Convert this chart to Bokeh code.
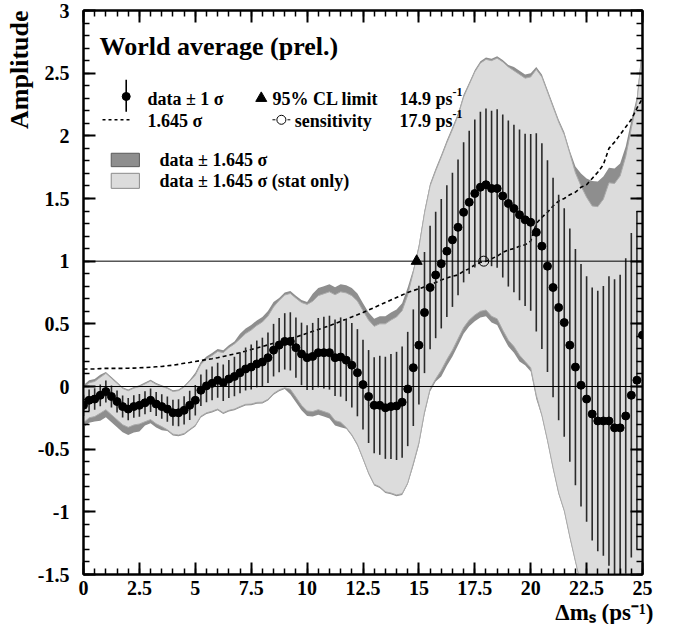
import math
import numpy as np
from bokeh.plotting import figure
from bokeh.models import (Range1d, LinearAxis, SingleIntervalTicker, Title,
                          CustomJSTickFormatter, Label, Span, ColumnDataSource)
from bokeh.embed import file_html
from bokeh.resources import INLINE

# ---------------- data ----------------
ms = [0.0, 0.25, 0.5, 0.75, 1.0, 1.25, 1.5, 1.75, 2.0, 2.25,
      2.5, 2.75, 3.0, 3.25, 3.5, 3.75, 4.0, 4.25, 4.5, 4.75,
      5.0, 5.25, 5.5, 5.75, 6.0, 6.25, 6.5, 6.75, 7.0, 7.25,
      7.5, 7.75, 8.0, 8.25, 8.5, 8.75, 9.0, 9.25, 9.5, 9.75,
      10.0, 10.25, 10.5, 10.75, 11.0, 11.25, 11.5, 11.75, 12.0, 12.25,
      12.5, 12.75, 13.0, 13.25, 13.5, 13.75, 14.0, 14.25, 14.5, 14.75,
      15.0, 15.25, 15.5, 15.75, 16.0, 16.25, 16.5, 16.75, 17.0, 17.25,
      17.5, 17.75, 18.0, 18.25, 18.5, 18.75, 19.0, 19.25, 19.5, 19.75,
      20.0, 20.25, 20.5, 20.75, 21.0, 21.25, 21.5, 21.75, 22.0, 22.25,
      22.5, 22.75, 23.0, 23.25, 23.5, 23.75, 24.0, 24.25, 24.5, 24.75,
      25.0]

amplitude = [-0.15, -0.11, -0.10, -0.07, -0.04, -0.08, -0.12, -0.16, -0.18, -0.16,
             -0.15, -0.13, -0.11, -0.14, -0.16, -0.18, -0.21, -0.21, -0.19, -0.15,
             -0.11, -0.03, 0.005, 0.025, 0.05, 0.03, 0.06, 0.08, 0.11, 0.14,
             0.155, 0.18, 0.195, 0.23, 0.29, 0.33, 0.36, 0.36, 0.31, 0.26,
             0.23, 0.24, 0.27, 0.27, 0.27, 0.23, 0.235, 0.21, 0.17, 0.11,
             0.015, -0.08, -0.15, -0.15, -0.17, -0.16, -0.155, -0.125, -0.02, 0.15,
             0.33, 0.59, 0.79, 0.89, 0.98, 1.08, 1.17, 1.27, 1.39, 1.47,
             1.54, 1.59, 1.61, 1.58, 1.58, 1.52, 1.46, 1.42, 1.37, 1.33,
             1.31, 1.23, 1.12, 0.96, 0.79, 0.63, 0.51, 0.33, 0.155, 0.01,
             -0.10, -0.22, -0.275, -0.275, -0.275, -0.33, -0.33, -0.235, -0.07, 0.05,
             0.41]

# 1.645 sigma (dashed curve)
sens_1645 = [0.140, 0.140, 0.140, 0.143, 0.145, 0.145, 0.145, 0.145, 0.146, 0.147,
             0.149, 0.151, 0.154, 0.157, 0.160, 0.165, 0.170, 0.177, 0.185, 0.192,
             0.200, 0.207, 0.215, 0.222, 0.230, 0.240, 0.250, 0.260, 0.270, 0.282,
             0.295, 0.307, 0.320, 0.332, 0.345, 0.357, 0.370, 0.382, 0.395, 0.410,
             0.425, 0.440, 0.455, 0.470, 0.485, 0.502, 0.520, 0.537, 0.555, 0.572,
             0.590, 0.610, 0.630, 0.650, 0.670, 0.690, 0.710, 0.730, 0.750, 0.765,
             0.780, 0.795, 0.810, 0.830, 0.850, 0.865, 0.880, 0.890, 0.920, 0.940,
             0.970, 0.990, 1.000, 1.020, 1.040, 1.070, 1.090, 1.100, 1.120, 1.130,
             1.160, 1.300, 1.350, 1.390, 1.440, 1.480, 1.500, 1.530, 1.550, 1.590,
             1.610, 1.660, 1.710, 1.770, 1.900, 1.950, 2.010, 2.070, 2.130, 2.220,
             2.300]

# extra width of the full (stat+syst) band beyond the stat-only band
syst_hi = [0.02, 0.02, 0.02, 0.02, 0.01, 0.01, 0.01, 0.01, 0.01, 0.01,
           0.01, 0.01, 0.01, 0.01, 0.01, 0.01, 0.01, 0.01, 0.01, 0.01,
           0.02, 0.02, 0.02, 0.02, 0.02, 0.02, 0.02, 0.02, 0.04, 0.04,
           0.04, 0.04, 0.04, 0.04, 0.04, 0.02, 0.02, 0.02, 0.02, 0.02,
           0.02, 0.06, 0.06, 0.06, 0.06, 0.06, 0.06, 0.06, 0.06, 0.06,
           0.06, 0.06, 0.06, 0.06, 0.06, 0.06, 0.06, 0.06, 0.06, 0.02,
           0.02, 0.02, 0.02, 0.02, 0.02, 0.02, 0.02, 0.02, 0.02, 0.015,
           0.015, 0.015, 0.015, 0.015, 0.015, 0.015, 0.015, 0.03, 0.03, 0.03,
           0.03, 0.02, 0.02, 0.02, 0.02, 0.02, 0.02, 0.02, 0.05, 0.10,
           0.15, 0.20, 0.20, 0.18, 0.12, 0.12, 0.10, 0.08, 0.06, 0.04,
           0.02]
syst_lo = [0.04, 0.04, 0.04, 0.06, 0.06, 0.06, 0.06, 0.06, 0.06, 0.06,
           0.06, 0.03, 0.03, 0.03, 0.03, 0.01, 0.01, 0.01, 0.01, 0.01,
           0.01, 0.01, 0.01, 0.01, 0.01, 0.01, 0.01, 0.01, 0.01, 0.01,
           0.01, 0.01, 0.01, 0.01, 0.01, 0.01, 0.01, 0.04, 0.04, 0.04,
           0.04, 0.04, 0.04, 0.04, 0.04, 0.04, 0.04, 0.01, 0.01, 0.01,
           0.01, 0.01, 0.01, 0.01, 0.01, 0.01, 0.01, 0.01, 0.01, 0.02,
           0.02, 0.02, 0.02, 0.02, 0.05, 0.05, 0.05, 0.05, 0.05, 0.05,
           0.05, 0.05, 0.05, 0.05, 0.05, 0.05, 0.05, 0.05, 0.05, 0.03,
           0.03, 0.03, 0.01, 0.01, 0.01, 0.01, 0.01, 0.01, 0.01, 0.01,
           0.01, 0.01, 0.01, 0.01, 0.01, 0.01, 0.01, 0.01, 0.01, 0.01,
           0.01]

limit_95 = 14.9
sensitivity = 17.9

# ---------------- styles ----------------
FONT = "Liberation Serif"
DARK = "#8e8e8e"
LIGHT = "#dcdcdc"
LIGHT_EDGE = "#ababab"

x = np.array(ms)
a = np.array(amplitude)
s = np.array(sens_1645)
sig = s / 1.645
src = ColumnDataSource(dict(
    x=x, a=a, sens=s,
    bar_lo=a - sig, bar_hi=a + sig,
    lt_lo=a - s, lt_hi=a + s,
    dk_lo=a - s - np.array(syst_lo), dk_hi=a + s + np.array(syst_hi)))

p = figure(width=667, height=624, x_range=Range1d(0, 25), y_range=Range1d(-1.5, 3),
           output_backend="svg", toolbar_location=None,
           min_border_left=83, min_border_right=25, min_border_top=10, min_border_bottom=50)
p.xgrid.visible = False
p.ygrid.visible = False
p.outline_line_color = "black"
p.outline_line_width = 2
p.background_fill_color = "white"
p.border_fill_color = "white"

fmt = CustomJSTickFormatter(code="return Number(tick.toFixed(2)).toString();")

def style_axis(ax, labels=True):
    ax.axis_line_width = 2
    ax.axis_line_color = "black"
    ax.major_tick_in = 12
    ax.major_tick_out = 0
    ax.minor_tick_in = 6
    ax.minor_tick_out = 0
    ax.major_tick_line_width = 2
    ax.minor_tick_line_width = 1.5
    ax.major_tick_line_color = "black"
    ax.minor_tick_line_color = "black"
    if labels:
        ax.major_label_text_font = FONT
        ax.major_label_text_font_style = "bold"
        ax.major_label_text_font_size = "20px"
        ax.major_label_text_color = "black"
    else:
        ax.major_label_text_font_size = "1px"
        ax.major_label_text_color = None
        ax.major_label_standoff = 0

xt = SingleIntervalTicker(interval=2.5, num_minor_ticks=5)
yt = SingleIntervalTicker(interval=0.5, num_minor_ticks=5)

p.xaxis.ticker = xt
p.xaxis.formatter = fmt
p.xaxis.major_label_standoff = 6
style_axis(p.xaxis[0])
p.yaxis.ticker = yt
p.yaxis.formatter = fmt
p.yaxis.major_label_standoff = 14
style_axis(p.yaxis[0])

top_ax = LinearAxis(ticker=SingleIntervalTicker(interval=2.5, num_minor_ticks=5), formatter=fmt)
style_axis(top_ax, labels=False)
p.add_layout(top_ax, "above")
right_ax = LinearAxis(ticker=SingleIntervalTicker(interval=0.5, num_minor_ticks=5), formatter=fmt)
style_axis(right_ax, labels=False)
p.add_layout(right_ax, "right")

# axis titles (as plot titles, aligned like the original)
ytitle = Title(text="Amplitude", align="right", text_font=FONT, text_font_style="bold",
               text_font_size="26px", text_color="black", standoff=2)
p.add_layout(ytitle, "left")
xtitle = Title(text="\u0394m\u209b (ps\u207b\u00b9)", align="right", text_font=FONT,
               text_font_style="bold", text_font_size="23px", text_color="black",
               standoff=0, offset=-11)
p.add_layout(xtitle, "below")

# bands
p.varea(x="x", y1="dk_lo", y2="dk_hi", source=src, fill_color=DARK)
p.varea(x="x", y1="lt_lo", y2="lt_hi", source=src, fill_color=LIGHT)
p.line(x="x", y="lt_hi", source=src, line_color=LIGHT_EDGE, line_width=1)
p.line(x="x", y="lt_lo", source=src, line_color=LIGHT_EDGE, line_width=1)

# reference lines
p.add_layout(Span(location=0, dimension="width", line_color="black", line_width=1))
p.add_layout(Span(location=1, dimension="width", line_color="black", line_width=1))

# 1.645 sigma curve
p.line(x="x", y="sens", source=src, line_color="black", line_width=1.6, line_dash="4 3")

# error bars and points
p.segment(x0="x", y0="bar_lo", x1="x", y1="bar_hi", source=src, line_color="#2a2a2a", line_width=1.6)
p.scatter(x="x", y="a", source=src, size=8, color="black")

# limit and sensitivity markers
p.scatter(x=[limit_95], y=[1.0], marker="triangle", size=11, color="black")
p.scatter(x=[sensitivity], y=[1.0], marker="circle", size=10, fill_color=None,
          line_color="black", line_width=1)

# ---------------- legend (drawn by hand, as in the original) ----------------
p.segment(x0=[1.91], y0=[2.192], x1=[1.91], y1=[2.448], line_color="black", line_width=1.6)
p.scatter(x=[1.91], y=[2.314], size=8, color="black")
p.line(x=[0.85, 2.06], y=[2.128, 2.128], line_color="black", line_width=1.4, line_dash="3 3")
p.scatter(x=[7.95], y=[2.30], marker="triangle", size=11, color="black")
p.line(x=[8.45, 9.25], y=[2.128, 2.128], line_color="black", line_width=1, line_dash="3 2")
p.scatter(x=[8.85], y=[2.128], marker="circle", size=9, fill_color="white",
          line_color="black", line_width=1)
p.quad(left=[1.24], right=[2.5], bottom=[1.754], top=[1.861], fill_color=DARK,
       line_color="#5a5a5a", line_width=1)
p.quad(left=[1.24], right=[2.5], bottom=[1.581], top=[1.701], fill_color=LIGHT,
       line_color="#8a8a8a", line_width=1)

def lab(xx, yy, text, size, baseline="middle", align="left"):
    p.add_layout(Label(x=xx, y=yy, text=text, text_font=FONT, text_font_style="bold",
                       text_font_size=size, text_color="black", text_baseline=baseline,
                       text_align=align))

lab(0.72, 2.712, "World average (prel.)", "26px", baseline="alphabetic")
lab(2.86, 2.296, "data \u00b1 1 \u03c3", "18px")
lab(2.86, 2.120, "1.645 \u03c3", "18px")
lab(8.45, 2.296, "95% CL limit", "18px")
lab(9.45, 2.120, "sensitivity", "18px")
lab(14.13, 2.296, "14.9 ps", "18px")
lab(16.5, 2.352, "-1", "12px")
lab(14.13, 2.120, "17.9 ps", "18px")
lab(16.5, 2.176, "-1", "12px")
lab(3.40, 1.808, "data \u00b1 1.645 \u03c3", "18px")
lab(3.40, 1.641, "data \u00b1 1.645 \u03c3 (stat only)", "18px")

open("out.html", "w").write(file_html(p, INLINE))
